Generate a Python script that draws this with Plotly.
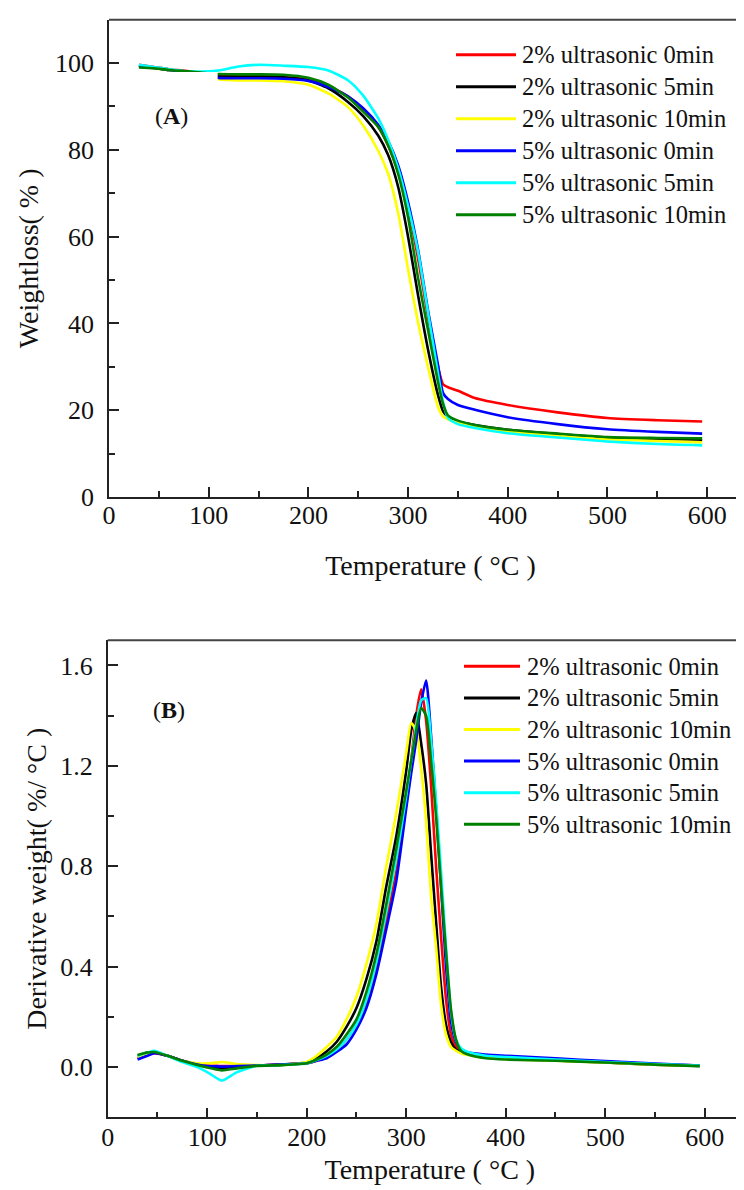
import plotly.graph_objects as go

# TG curves (panel A), weight % vs temperature
TEMP_A = [30, 45, 60, 80, 100, 110, 130, 150, 175, 200, 220, 240, 255, 270, 280, 290,
          300, 310, 320, 330, 335, 340, 350, 367, 400, 450, 500, 550, 595]
TG_2_0 = [99.6, 99.1, 98.6, 98.1, 97.4, 97.1, 97.0, 97.0, 96.8, 96.2, 94.8, 92.3, 89.2, 85.3, 81.0, 75.0,
          66.5, 55.0, 41.5, 30.0, 26.0, 25.3, 24.5, 22.8, 21.2, 19.5, 18.2, 17.7, 17.4]
TG_2_5 = [99.4, 98.9, 98.4, 98.0, 97.2, 96.9, 96.9, 96.9, 96.7, 96.0, 94.2, 91.0, 87.8, 83.3, 78.8, 71.5,
          60.0, 46.5, 34.0, 23.5, 19.8, 18.5, 17.4, 16.6, 15.5, 14.5, 13.7, 13.4, 13.2]
TG_2_10 = [99.2, 98.8, 98.4, 98.0, 96.6, 96.2, 96.0, 96.0, 95.8, 95.0, 93.0, 89.8, 85.6, 79.8, 74.5, 65.5,
           52.5, 40.3, 30.0, 20.8, 18.6, 17.9, 17.1, 16.2, 15.1, 14.1, 13.3, 12.9, 12.6]
TG_5_0 = [99.3, 98.9, 98.4, 98.0, 97.0, 96.6, 96.5, 96.5, 96.4, 95.9, 94.5, 92.3, 89.6, 85.8, 82.0, 76.5,
          68.0, 57.0, 43.0, 30.5, 24.0, 22.6, 21.2, 20.1, 18.4, 16.8, 15.6, 15.0, 14.6]
TG_5_5 = [99.6, 99.1, 98.6, 98.1, 98.1, 98.3, 99.2, 99.6, 99.4, 99.1, 98.3, 96.0, 92.5, 87.3, 82.3, 75.8,
          67.0, 56.5, 42.5, 28.5, 22.0, 18.2, 16.8, 15.9, 14.7, 13.7, 12.8, 12.2, 11.9]
TG_5_10 = [99.0, 98.8, 98.4, 98.1, 97.6, 97.5, 97.4, 97.4, 97.3, 96.6, 95.0, 92.0, 88.8, 85.3, 81.0, 74.5,
           64.5, 50.5, 38.5, 26.5, 21.5, 18.8, 17.6, 16.6, 15.5, 14.6, 13.8, 13.6, 13.5]

# DTG curves (panel B), %/°C vs temperature
TEMP_B = [30, 40, 47, 60, 75, 90, 100, 110, 115, 130, 150, 175, 200, 210, 220, 230, 240, 250, 260, 270,
          280, 290, 300, 305, 310, 315, 320, 325, 330, 335, 340, 345, 350, 355, 362, 380, 400, 450, 500,
          550, 595]
DTG_2_0 = [0.035, 0.050, 0.055, 0.045, 0.025, 0.012, 0.006, 0.005, 0.004, 0.004, 0.006, 0.010, 0.015,
           0.025, 0.040, 0.070, 0.110, 0.170, 0.260, 0.400, 0.580, 0.780, 1.050, 1.220, 1.400, 1.505,
           1.380, 1.120, 0.800, 0.520, 0.270, 0.130, 0.080, 0.062, 0.052, 0.042, 0.036, 0.028, 0.020,
           0.012, 0.006]
DTG_2_5 = [0.045, 0.058, 0.060, 0.045, 0.025, 0.010, 0.002, -0.002, -0.003, 0.000, 0.006, 0.010, 0.018,
           0.035, 0.062, 0.100, 0.160, 0.235, 0.350, 0.500, 0.720, 0.920, 1.180, 1.340, 1.410, 1.290,
           1.130, 0.850, 0.580, 0.320, 0.170, 0.100, 0.070, 0.058, 0.050, 0.040, 0.034, 0.026, 0.018,
           0.010, 0.005]
DTG_2_10 = [0.040, 0.055, 0.062, 0.045, 0.025, 0.015, 0.015, 0.018, 0.020, 0.012, 0.008, 0.008, 0.020,
            0.045, 0.080, 0.120, 0.190, 0.280, 0.410, 0.570, 0.800, 1.010, 1.250, 1.370, 1.340, 1.190,
            0.980, 0.680, 0.480, 0.250, 0.130, 0.080, 0.065, 0.055, 0.048, 0.038, 0.032, 0.025, 0.018,
            0.010, 0.005]
DTG_5_0 = [0.030, 0.045, 0.055, 0.045, 0.025, 0.010, 0.004, 0.003, 0.002, 0.004, 0.006, 0.010, 0.015,
           0.025, 0.035, 0.060, 0.090, 0.150, 0.235, 0.370, 0.550, 0.740, 1.030, 1.170, 1.300, 1.450,
           1.540, 1.320, 1.030, 0.720, 0.400, 0.180, 0.100, 0.070, 0.058, 0.050, 0.045, 0.035, 0.024,
           0.014, 0.006]
DTG_5_5 = [0.045, 0.058, 0.065, 0.045, 0.020, 0.000, -0.020, -0.045, -0.054, -0.020, 0.005, 0.008, 0.015,
           0.028, 0.045, 0.070, 0.110, 0.170, 0.270, 0.420, 0.620, 0.830, 1.080, 1.220, 1.360, 1.460,
           1.470, 1.300, 1.060, 0.780, 0.480, 0.220, 0.110, 0.075, 0.060, 0.045, 0.040, 0.030, 0.020,
           0.012, 0.006]
DTG_5_10 = [0.048, 0.058, 0.060, 0.045, 0.025, 0.008, -0.002, -0.010, -0.013, -0.005, 0.005, 0.008, 0.015,
            0.030, 0.050, 0.080, 0.130, 0.190, 0.300, 0.450, 0.650, 0.870, 1.100, 1.220, 1.340, 1.430,
            1.400, 1.220, 1.000, 0.720, 0.460, 0.230, 0.110, 0.065, 0.050, 0.035, 0.030, 0.025, 0.018,
            0.010, 0.004]

NAMES = ['2% ultrasonic 0min', '2% ultrasonic 5min', '2% ultrasonic 10min',
         '5% ultrasonic 0min', '5% ultrasonic 5min', '5% ultrasonic 10min']
COLORS = ['#ff0000', '#000000', '#ffff00', '#0000ff', '#00ffff', '#008000']

FONT = 'Liberation Serif'
W, H = 744, 1190
TICK = dict(ticks='inside', ticklen=6, tickwidth=1.5, tickcolor='#222')


def axis_style(**kw):
    base = dict(showline=True, linecolor='#222', linewidth=1.6, mirror=False,
                ticks='inside', ticklen=10, tickwidth=1.5, tickcolor='#222',
                showgrid=False, zeroline=False, automargin=False,
                tickfont=dict(family=FONT, size=26, color='#111'))
    base.update(kw)
    return base


def add_legend(fig, x_line, x_text, y_first, gap):
    # hand-placed legend: 60px colour sample + label, same look as the original
    for i, (name, col) in enumerate(zip(NAMES, COLORS)):
        yp = 1 - (y_first + gap * i) / H
        fig.add_shape(type='line', xref='paper', yref='paper',
                      x0=x_line[0] / W, x1=x_line[1] / W, y0=yp, y1=yp,
                      line=dict(color=col, width=3))
        fig.add_annotation(x=x_text / W, y=yp, xref='paper', yref='paper', text=name,
                           showarrow=False, xanchor='left', yanchor='middle',
                           font=dict(family=FONT, size=24.5, color='#111'))


def build():
    fig = go.Figure()
    tg = [TG_2_0, TG_2_5, TG_2_10, TG_5_0, TG_5_5, TG_5_10]
    dtg = [DTG_2_0, DTG_2_5, DTG_2_10, DTG_5_0, DTG_5_5, DTG_5_10]
    for name, col, ys in zip(NAMES, COLORS, tg):
        fig.add_trace(go.Scatter(x=TEMP_A, y=ys, mode='lines', name=name, xaxis='x', yaxis='y',
                                 line=dict(color=col, width=2.6, shape='spline', smoothing=0.6),
                                 showlegend=False))
    for name, col, ys in zip(NAMES, COLORS, dtg):
        fig.add_trace(go.Scatter(x=TEMP_B, y=ys, mode='lines', name=name, xaxis='x2', yaxis='y2',
                                 line=dict(color=col, width=2.6, shape='spline', smoothing=0.6),
                                 showlegend=False))

    xa_dom = [101 / W, 1.0]
    ya_dom = [1 - 489 / H, 1 - 11.7 / H]
    xb_dom = [99.7 / W, 1.0]
    yb_dom = [1 - 1109.3 / H, 1 - 632.3 / H]
    title_font = dict(family=FONT, size=28, color='#111')

    fig.update_layout(
        width=W, height=H, margin=dict(l=0, r=0, t=0, b=0),
        font=dict(family=FONT, color='#111'),
        paper_bgcolor='white', plot_bgcolor='white',
        xaxis=axis_style(domain=xa_dom, anchor='y', range=[0, 645], dtick=100, tick0=0,
                         ticklabelstandoff=-6, minor=dict(dtick=50, **TICK),
                         title=dict(text='Temperature ( °C )', font=title_font, standoff=26)),
        yaxis=axis_style(domain=ya_dom, anchor='x', range=[0, 110], dtick=20, tick0=0,
                         ticklabelstandoff=8, minor=dict(dtick=10, **TICK),
                         title=dict(text='Weightloss( % )', font=title_font, standoff=8)),
        xaxis2=axis_style(domain=xb_dom, anchor='y2', range=[0, 647.5], dtick=100, tick0=0,
                          ticklabelstandoff=-4, minor=dict(dtick=50, **TICK),
                          title=dict(text='Temperature ( °C )', font=title_font, standoff=8)),
        yaxis2=axis_style(domain=yb_dom, anchor='x2', range=[-0.2, 1.7], dtick=0.4, tick0=0,
                          tickformat='.1f', ticklabelstandoff=8, minor=dict(dtick=0.2, **TICK),
                          title=dict(text='Derivative weight( %/ °C )', font=title_font, standoff=5)),
    )

    add_legend(fig, (448, 508), 512, 46.7, 32)
    add_legend(fig, (456, 512), 517, 658.3, 31.6)

    # top frame lines (the right side is cut off in the original)
    for xr, yr in [('x domain', 'y domain'), ('x2 domain', 'y2 domain')]:
        fig.add_shape(type='line', xref=xr, yref=yr, x0=0, x1=1, y0=1, y1=1,
                      line=dict(color='#444', width=2))
    # white label box in panel A hiding part of the curves
    fig.add_shape(type='rect', xref='x', yref='y', x0=22, x1=109, y0=80, y1=97.95,
                  fillcolor='white', line=dict(width=0), layer='above')

    fig.add_annotation(x=62.5, y=87.9, xref='x', yref='y', text='(<b>A</b>)', showarrow=False,
                       font=dict(family=FONT, size=24, color='#111'))
    fig.add_annotation(x=61.3, y=1.421, xref='x2', yref='y2', text='(<b>B</b>)', showarrow=False,
                       font=dict(family=FONT, size=24, color='#111'))
    return fig


def main():
    fig = build()
    fig.write_html("out.html")


if __name__ == "__main__":
    main()
